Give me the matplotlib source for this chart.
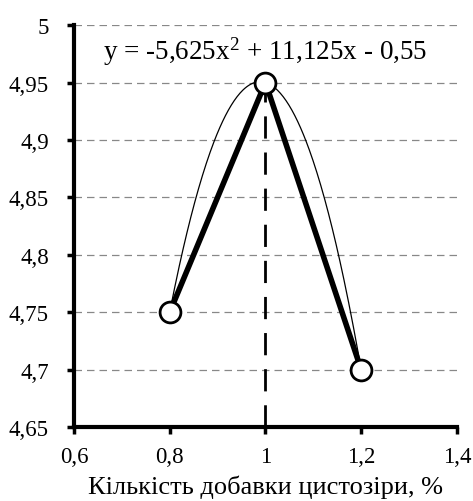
import numpy as np
import matplotlib
matplotlib.use('Agg')
import matplotlib.pyplot as plt

plt.rcParams['font.family'] = ['Liberation Serif', 'DejaVu Serif']
plt.rcParams['mathtext.fontset'] = 'custom'
plt.rcParams['mathtext.rm'] = 'Liberation Serif'
plt.rcParams['mathtext.it'] = 'Liberation Serif:italic'

# data
dose = [0.8, 1.0, 1.2]
value = [4.75, 4.95, 4.70]
x_ticks = [0.6, 0.8, 1.0, 1.2, 1.4]
x_labels = ['0,6', '0,8', '1', '1,2', '1,4']
y_ticks = [4.65, 4.7, 4.75, 4.8, 4.85, 4.9, 4.95, 5.0]
y_labels = ['4,65', '4,7', '4,75', '4,8', '4,85', '4,9', '4,95', '5']
x_title = 'Кількість добавки цистозіри, %'

fig = plt.figure(figsize=(4.73, 5.02), dpi=100)
ax = fig.add_axes([0.1564, 0.1474, 0.8096, 0.8006])

# quadratic trendline through the points
coef = np.polyfit(dose, value, 2)
xs = np.linspace(min(dose), max(dose), 200)
ax.plot(xs, np.polyval(coef, xs), color='black', lw=0.9, zorder=3)

# dashed line at the maximum
imax = int(np.argmax(value))
ax.plot([dose[imax], dose[imax]], [y_ticks[0], value[imax]], color='black',
        lw=2, dashes=(8, 5), zorder=2)

ax.plot(dose, value, color='black', lw=4, zorder=4)
ax.plot(dose, value, 'o', ms=15, mfc='white', mec='black', mew=2, zorder=5)

ax.set_xlim(0.6, 1.4)
ax.set_ylim(4.65, 5.0)
ax.set_xticks(x_ticks)
ax.set_xticklabels(x_labels)
ax.set_yticks(y_ticks)
ax.set_yticklabels(y_labels)
ax.tick_params(labelsize=16.5, width=2.5, length=5, direction='out')
ax.tick_params(axis='y', pad=13)
ax.tick_params(axis='x', pad=9)

for yv in y_ticks[1:]:
    ax.axhline(yv, color='#888888', lw=0.9, dashes=(6, 4), zorder=1)

for s in ['top', 'right']:
    ax.spines[s].set_visible(False)
for s in ['left', 'bottom']:
    ax.spines[s].set_linewidth(3)

# trendline equation in the chart's own notation
a, b, c = coef
eq = 'y = {:.3f}'.format(a).replace('.', ',') + r'x$^{\mathrm{2}}$'
eq += ' + {:.3f}x - {:.2f}'.format(b, -c).replace('.', ',')
ax.text(0.5, 0.935, eq, transform=ax.transAxes, ha='center', va='center',
        fontsize=19.5)
ax.set_xlabel(x_title, fontsize=19, labelpad=5)

fig.savefig('out.png', dpi=100)
